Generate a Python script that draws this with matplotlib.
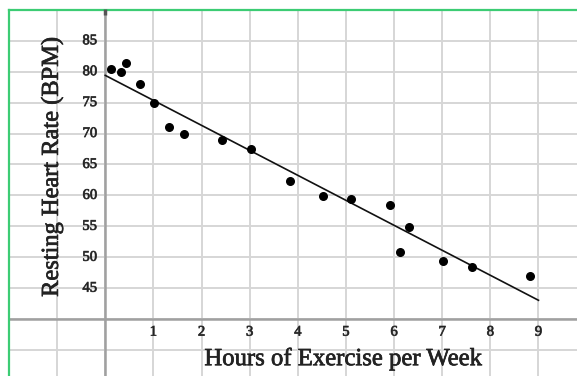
import matplotlib
matplotlib.use("Agg")
import matplotlib.pyplot as plt
import matplotlib.patheffects as pe
import numpy as np

# Data
hours = [0.12, 0.33, 0.44, 0.73, 1.02, 1.33, 1.63, 2.42, 3.03, 3.83, 4.52, 5.11, 5.91, 6.12, 6.31, 7.02, 7.61, 8.82]
bpm = [80.4, 79.9, 81.4, 78.0, 75.0, 71.0, 70.0, 69.0, 67.5, 62.4, 59.9, 59.4, 58.5, 50.9, 54.9, 49.4, 48.4, 46.9]
fit_x = [0, 9]
fit_intercept = 79.4
fit_slope = -4.04
x_ticks = [1, 2, 3, 4, 5, 6, 7, 8, 9]
y_ticks = [45, 50, 55, 60, 65, 70, 75, 80, 85]
x_label = "Hours of Exercise per Week"
y_label = "Resting Heart Rate (BPM)"

plt.rcParams['font.family'] = ['Liberation Serif', 'DejaVu Serif']

W, H = 577, 376
fig = plt.figure(figsize=(W / 100, H / 100), dpi=100)
ax = fig.add_axes([9 / W, 0, 1 - 9 / W, 1 - 9.5 / H])
ax.set_xlim(-2, 9.80)
ax.set_ylim(30.8, 90.05)

grid_c = '#d6d6d6'
for gx in range(-1, 10):
    ax.axvline(gx, color=grid_c, lw=1.4, zorder=1)
for gy in range(35, 90, 5):
    ax.axhline(gy, color=grid_c, lw=1.4, zorder=1)

# main axes
ax.axvline(0, color='#a0a0a0', lw=1.8, zorder=2)
ax.axhline(40, color='#a0a0a0', lw=1.8, zorder=2)
ax.plot([0], [89.6], marker='|', color='#555555', ms=5, mew=2.5, zorder=3, clip_on=False)

for s in ['right', 'bottom']:
    ax.spines[s].set_visible(False)
for s in ['left', 'top']:
    ax.spines[s].set_color('#3ccc74')
    ax.spines[s].set_linewidth(1.6)
ax.set_xticks([])
ax.set_yticks([])

txt_c = '#222222'
tick_fx = [pe.withStroke(linewidth=0.6, foreground='#444444')]
lab_fx = [pe.withStroke(linewidth=0.5, foreground='#222222')]
for xt in x_ticks:
    ax.text(xt, 37.9, str(xt), ha='center', va='center', fontsize=10.5, color=txt_c, path_effects=tick_fx)
for yt in y_ticks:
    ax.text(-0.17, yt, str(yt), ha='right', va='center', fontsize=10.5, color=txt_c, path_effects=tick_fx)

ax.text(4.95, 33.6, x_label, ha='center', va='center', fontsize=17.8, color=txt_c, path_effects=lab_fx)
ax.text(-1.1, 64.6, y_label, ha='center', va='center', rotation=90, fontsize=17.6, color=txt_c, path_effects=lab_fx)

fx = np.array(fit_x, dtype=float)
ax.plot(fx, fit_intercept + fit_slope * fx, color='#111111', lw=1.2, zorder=4)
ax.scatter(hours, bpm, s=30, color='black', zorder=5)

fig.savefig('out.png', dpi=100)
